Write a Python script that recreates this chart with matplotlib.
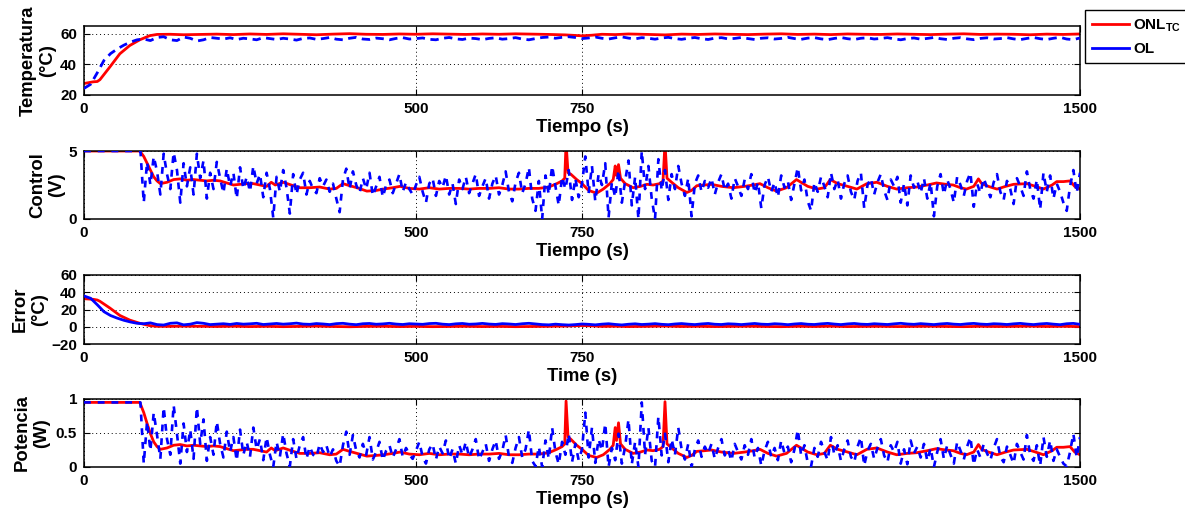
import matplotlib
matplotlib.use('Agg')
import matplotlib.pyplot as plt
import numpy as np
from matplotlib.lines import Line2D

plt.rcParams['font.family'] = ['Liberation Sans', 'DejaVu Sans']
plt.rcParams['font.weight'] = 'bold'
plt.rcParams['axes.labelweight'] = 'bold'
plt.rcParams['mathtext.fontset'] = 'custom'
plt.rcParams['mathtext.rm'] = 'Liberation Sans:bold'
plt.rcParams['mathtext.bf'] = 'Liberation Sans:bold'
plt.rcParams['axes.unicode_minus'] = True

# ---- ONL_TC (red) : temperature / error, irregular sample times
t_onl_temp = [0, 14, 20, 24, 39, 54, 69, 84, 99, 110,
              130, 150, 175, 200, 225, 250, 275, 300, 325, 350,
              375, 400, 425, 450, 475, 500, 525, 550, 575, 600,
              625, 650, 675, 700, 725, 750, 765, 780, 800, 820,
              850, 875, 900, 925, 950, 975, 1000, 1025, 1050, 1075,
              1100, 1125, 1150, 1175, 1200, 1225, 1250, 1275, 1300, 1325,
              1350, 1375, 1400, 1425, 1450, 1475, 1500]
temp_onl = [27.5, 28.6, 28.8, 30.0, 38.3, 46.9, 52.3, 56.0, 58.7, 59.5,
            59.6, 59.3, 59.5, 59.7, 59.4, 59.8, 59.5, 59.9, 59.6, 59.3,
            59.7, 60.0, 59.6, 59.5, 59.8, 59.6, 59.9, 59.7, 59.5, 59.8,
            59.6, 59.9, 59.7, 59.5, 59.2, 58.6, 59.0, 59.6, 59.4, 59.8,
            59.5, 59.2, 59.7, 59.5, 59.8, 59.6, 59.4, 59.7, 59.9, 59.5,
            59.7, 59.4, 59.8, 59.6, 59.5, 59.8, 59.6, 59.4, 59.7, 59.9,
            59.5, 59.7, 59.6, 59.3, 59.7, 59.5, 59.8]
error_onl = [32.5, 31.8, 31.0, 29.5, 21.7, 13.1, 7.7, 4.0, 1.3, 0.5,
             0.4, 0.7, 0.5, 0.3, 0.6, 0.2, 0.5, 0.1, 0.4, 0.7,
             0.3, 0.0, 0.4, 0.5, 0.2, 0.4, 0.1, 0.3, 0.5, 0.2,
             0.4, 0.1, 0.3, 0.5, 0.8, 1.4, 1.0, 0.4, 0.6, 0.2,
             0.5, 0.8, 0.3, 0.5, 0.2, 0.4, 0.6, 0.3, 0.1, 0.5,
             0.3, 0.6, 0.2, 0.4, 0.5, 0.2, 0.4, 0.6, 0.3, 0.1,
             0.5, 0.3, 0.4, 0.7, 0.3, 0.5, 0.2]

# ---- ONL_TC (red) : control voltage / power
t_onl_ctrl = [0, 84, 90, 95, 100, 105, 110, 115, 125, 135,
              145, 155, 165, 175, 185, 195, 205, 215, 225, 235,
              245, 255, 265, 275, 282, 288, 300, 312, 325, 340,
              355, 370, 380, 390, 400, 411, 426, 440, 451, 465,
              476, 490, 505, 520, 535, 550, 565, 580, 595, 610,
              625, 640, 655, 670, 685, 700, 712, 720, 724, 726,
              729, 733, 742, 750, 760, 772, 782, 792, 797, 800,
              802, 805, 808, 815, 827, 838, 848, 857, 867, 872,
              875, 878, 885, 895, 908, 915, 923, 935, 945, 960,
              978, 995, 1008, 1018, 1030, 1043, 1058, 1073, 1090, 1104,
              1115, 1124, 1135, 1150, 1164, 1179, 1194, 1210, 1224, 1240,
              1254, 1270, 1284, 1298, 1309, 1320, 1329, 1340, 1347, 1352,
              1362, 1375, 1388, 1400, 1420, 1433, 1445, 1458, 1465, 1475,
              1485, 1492, 1500]
ctrl_onl = [5.0, 5.0, 4.6, 4.1, 3.6, 3.1, 2.8, 2.6, 2.7, 2.9,
            2.95, 2.85, 2.9, 2.85, 2.8, 2.85, 2.8, 2.65, 2.5, 2.55,
            2.6, 2.6, 2.5, 2.4, 2.7, 2.5, 2.7, 2.5, 2.3, 2.3,
            2.35, 2.2, 2.25, 2.6, 2.45, 2.3, 2.05, 2.1, 2.2, 2.3,
            2.4, 2.25, 2.2, 2.3, 2.2, 2.25, 2.25, 2.2, 2.25, 2.25,
            2.3, 2.2, 2.2, 2.25, 2.25, 2.35, 2.6, 2.8, 3.0, 5.6,
            3.4, 3.3, 2.9, 2.6, 2.1, 1.9, 2.2, 2.6, 2.9, 3.9,
            3.2, 4.0, 3.0, 2.6, 2.3, 2.4, 2.55, 2.5, 2.6, 2.8,
            5.6, 3.0, 2.7, 2.3, 1.95, 2.1, 2.45, 2.5, 2.55, 2.4,
            2.3, 2.4, 2.5, 2.6, 2.3, 2.05, 2.3, 2.9, 2.4, 2.2,
            2.3, 2.9, 2.6, 2.4, 2.2, 2.6, 2.7, 2.4, 2.2, 2.3,
            2.35, 2.5, 2.65, 2.55, 2.5, 2.3, 2.2, 2.4, 2.95, 2.6,
            2.4, 2.2, 2.4, 2.55, 2.6, 2.4, 2.2, 2.5, 2.75, 2.75,
            2.8, 2.4, 2.2]
power_onl = [0.95, 0.95, 0.80, 0.64, 0.49, 0.37, 0.30, 0.26, 0.28, 0.32,
             0.33, 0.31, 0.32, 0.31, 0.30, 0.31, 0.30, 0.27, 0.24, 0.25,
             0.26, 0.26, 0.24, 0.22, 0.28, 0.24, 0.28, 0.24, 0.20, 0.20,
             0.21, 0.18, 0.19, 0.26, 0.23, 0.20, 0.16, 0.17, 0.18, 0.20,
             0.22, 0.19, 0.18, 0.20, 0.18, 0.19, 0.19, 0.18, 0.19, 0.19,
             0.20, 0.18, 0.18, 0.19, 0.19, 0.21, 0.26, 0.30, 0.34, 0.97,
             0.44, 0.41, 0.32, 0.26, 0.17, 0.14, 0.18, 0.26, 0.32, 0.58,
             0.39, 0.65, 0.34, 0.26, 0.20, 0.22, 0.25, 0.24, 0.26, 0.30,
             0.96, 0.34, 0.28, 0.20, 0.14, 0.17, 0.23, 0.24, 0.25, 0.22,
             0.20, 0.22, 0.24, 0.26, 0.20, 0.16, 0.20, 0.32, 0.22, 0.18,
             0.20, 0.32, 0.26, 0.22, 0.18, 0.26, 0.28, 0.22, 0.18, 0.20,
             0.21, 0.24, 0.27, 0.25, 0.24, 0.20, 0.18, 0.22, 0.33, 0.26,
             0.22, 0.18, 0.22, 0.25, 0.26, 0.22, 0.18, 0.24, 0.29, 0.29,
             0.30, 0.22, 0.18]

# ---- OL (blue) : temperature / error sampled every 10 s
temp_ol = [24.3, 27.0, 34.5, 42.5, 47.0, 50.0, 52.5, 54.5, 56.0, 56.5,
           55.5, 57.5, 58.0, 56.0, 55.5, 57.8, 57.0, 55.2, 56.0, 57.5,
           57.0, 56.5, 57.3, 56.2, 57.0, 56.6, 56.0, 57.4, 56.8, 56.2,
           57.0, 56.5, 55.8, 56.9, 57.2, 56.3, 56.8, 57.5, 56.4, 56.0,
           57.0, 57.6, 56.5, 56.2, 57.1, 56.7, 56.0, 56.9, 57.4, 56.5,
           56.8, 57.2, 56.3, 56.0, 57.0, 57.5, 56.6, 56.2, 57.1, 56.8,
           56.1, 56.9, 57.3, 56.4, 56.8, 57.4, 56.5, 56.0, 56.8, 57.5,
           57.8, 57.0, 57.6, 58.0, 57.5, 56.8, 57.2, 57.8, 57.0, 56.5,
           57.3, 57.9, 57.1, 56.6, 57.4, 57.0, 56.4, 57.2, 57.6, 56.8,
           56.3, 57.0, 57.5, 56.7, 56.2, 57.1, 57.4, 56.6, 56.9, 57.5,
           56.8, 56.2, 57.0, 57.3, 56.5, 56.9, 57.6, 56.8, 56.3, 57.1,
           57.4, 56.6, 56.1, 56.9, 57.5, 56.7, 56.2, 57.0, 57.3, 56.5,
           56.9, 57.4, 56.6, 56.0, 56.8, 57.2, 56.4, 56.9, 57.5, 56.7,
           56.2, 57.0, 57.4, 56.6, 56.1, 56.9, 57.3, 56.5, 56.8, 57.4,
           56.6, 56.1, 56.9, 57.5, 56.7, 56.2, 57.0, 57.6, 56.5, 56.1,
           57.2]
error_ol = [35.7, 33.0, 25.5, 17.5, 13.0, 10.0, 7.5, 5.5, 4.0, 3.5,
            4.5, 2.5, 2.0, 4.0, 4.5, 2.2, 3.0, 4.8, 4.0, 2.5,
            3.0, 3.5, 2.7, 3.8, 3.0, 3.4, 4.0, 2.6, 3.2, 3.8,
            3.0, 3.5, 4.2, 3.1, 2.8, 3.7, 3.2, 2.5, 3.6, 4.0,
            3.0, 2.4, 3.5, 3.8, 2.9, 3.3, 4.0, 3.1, 2.6, 3.5,
            3.2, 2.8, 3.7, 4.0, 3.0, 2.5, 3.4, 3.8, 2.9, 3.2,
            3.9, 3.1, 2.7, 3.6, 3.2, 2.6, 3.5, 4.0, 3.2, 2.5,
            2.2, 3.0, 2.4, 2.0, 2.5, 3.2, 2.8, 2.2, 3.0, 3.5,
            2.7, 2.1, 2.9, 3.4, 2.6, 3.0, 3.6, 2.8, 2.4, 3.2,
            3.7, 3.0, 2.5, 3.3, 3.8, 2.9, 2.6, 3.4, 3.1, 2.5,
            3.2, 3.8, 3.0, 2.7, 3.5, 3.1, 2.4, 3.2, 3.7, 2.9,
            2.6, 3.4, 3.9, 3.1, 2.5, 3.3, 3.8, 3.0, 2.7, 3.5,
            3.1, 2.6, 3.4, 4.0, 3.2, 2.8, 3.6, 3.1, 2.5, 3.3,
            3.8, 3.0, 2.6, 3.4, 3.9, 3.1, 2.7, 3.5, 3.2, 2.6,
            3.4, 3.9, 3.1, 2.5, 3.3, 3.8, 3.0, 2.4, 3.5, 3.9,
            2.8]

# ---- OL (blue) : control voltage / power sampled every 5 s
ctrl_ol = [5.0, 5.0, 5.0, 5.0, 5.0, 5.0, 5.0, 5.0, 5.0, 5.0,
           5.0, 5.0, 5.0, 5.0, 5.0, 5.0, 5.0, 5.0, 1.2, 4.2,
           2.5, 4.6, 3.5, 1.8, 4.8, 3.3, 2.2, 4.9, 3.6, 1.2,
           4.1, 2.4, 3.8, 1.8, 4.8, 3.0, 4.3, 1.5, 3.4, 2.2,
           4.2, 3.0, 1.9, 3.7, 2.4, 3.4, 1.5, 3.8, 2.2, 3.1,
           2.0, 3.9, 2.6, 3.3, 1.6, 3.4, 2.2, 0.1, 3.1, 2.0,
           3.6, 2.3, 0.4, 3.3, 1.8, 2.9, 3.4, 1.8, 2.8, 2.2,
           1.9, 3.0, 2.4, 2.9, 2.0, 2.6, 1.5, 0.5, 2.9, 3.7,
           2.2, 3.5, 2.5, 1.9, 3.0, 2.2, 3.4, 1.7, 2.4, 3.1,
           1.6, 2.5, 2.9, 1.9, 2.6, 3.3, 2.0, 2.7, 2.2, 1.8,
           2.5, 3.1, 2.0, 1.2, 2.6, 3.0, 1.7, 2.8, 2.3, 3.2,
           1.8, 2.6, 1.1, 2.9, 2.2, 3.1, 1.9, 2.6, 3.3, 1.7,
           2.4, 3.0, 1.5, 2.6, 3.2, 1.8, 2.5, 3.5, 2.0, 1.3,
           2.7, 3.4, 1.9, 2.6, 3.8, 1.5, 0.6, 2.8, 0.0, 3.2,
           1.8, 3.9, 2.4, 1.0, 3.1, 2.2, 3.6, 1.4, 3.0, 1.6,
           2.6, 4.6, 1.9, 3.9, 1.3, 3.3, 2.5, 4.1, 0.1, 2.7,
           1.6, 3.6, 1.2, 2.8, 4.3, 1.0, 3.1, 0.0, 5.0, 2.2,
           3.9, 1.5, 0.0, 4.4, 2.1, 3.6, 1.4, 3.3, 2.2, 3.9,
           2.6, 1.7, 3.0, 0.2, 2.6, 3.2, 2.0, 2.8, 2.3, 3.0,
           1.8, 2.7, 3.3, 2.1, 2.6, 1.5, 3.0, 2.4, 1.7, 2.9,
           2.2, 3.3, 1.9, 2.7, 0.8, 2.5, 3.1, 2.0, 2.7, 1.6,
           3.2, 2.3, 2.8, 1.4, 2.6, 3.8, 2.1, 2.9, 1.3, 0.6,
           2.7, 2.0, 3.1, 2.4, 1.6, 3.4, 2.2, 2.9, 1.5, 2.6,
           3.2, 2.0, 1.4, 2.8, 3.4, 0.8, 2.5, 3.0, 1.8, 2.7,
           3.3, 2.1, 1.4, 2.9, 2.4, 3.1, 1.2, 2.6, 1.0, 3.2,
           2.3, 2.8, 1.9, 3.0, 1.5, 2.7, 0.2, 2.4, 3.3, 1.8,
           2.9, 2.2, 1.2, 3.1, 2.5, 1.7, 2.8, 3.4, 0.9, 2.6,
           1.9, 3.0, 2.3, 1.6, 2.7, 3.3, 2.0, 1.4, 2.8, 2.2,
           1.1, 3.0, 2.4, 1.7, 3.5, 2.2, 1.5, 2.9, 0.7, 3.4,
           2.0, 3.2, 1.5, 2.6, 2.0, 1.2, 0.6, 2.4, 3.6, 1.9,
           3.4]
power_ol = [0.95, 0.95, 0.95, 0.95, 0.95, 0.95, 0.95, 0.95, 0.95, 0.95,
            0.95, 0.95, 0.95, 0.95, 0.95, 0.95, 0.95, 0.95, 0.05, 0.67,
            0.24, 0.80, 0.47, 0.12, 0.88, 0.41, 0.18, 0.91, 0.49, 0.05,
            0.64, 0.22, 0.55, 0.12, 0.88, 0.34, 0.70, 0.09, 0.44, 0.18,
            0.67, 0.34, 0.14, 0.52, 0.22, 0.44, 0.09, 0.55, 0.18, 0.37,
            0.15, 0.58, 0.26, 0.41, 0.10, 0.44, 0.18, 0.00, 0.37, 0.15,
            0.49, 0.20, 0.01, 0.41, 0.12, 0.32, 0.44, 0.12, 0.30, 0.18,
            0.14, 0.34, 0.22, 0.32, 0.15, 0.26, 0.09, 0.01, 0.32, 0.52,
            0.18, 0.47, 0.24, 0.14, 0.34, 0.18, 0.44, 0.11, 0.22, 0.37,
            0.10, 0.24, 0.32, 0.14, 0.26, 0.41, 0.15, 0.28, 0.18, 0.12,
            0.24, 0.37, 0.15, 0.05, 0.26, 0.34, 0.11, 0.30, 0.20, 0.39,
            0.12, 0.26, 0.05, 0.32, 0.18, 0.37, 0.14, 0.26, 0.41, 0.11,
            0.22, 0.34, 0.09, 0.26, 0.39, 0.12, 0.24, 0.47, 0.15, 0.06,
            0.28, 0.44, 0.14, 0.26, 0.55, 0.09, 0.01, 0.30, 0.00, 0.39,
            0.12, 0.58, 0.22, 0.04, 0.37, 0.18, 0.49, 0.07, 0.34, 0.10,
            0.26, 0.80, 0.14, 0.58, 0.06, 0.41, 0.24, 0.64, 0.00, 0.28,
            0.10, 0.49, 0.05, 0.30, 0.70, 0.04, 0.37, 0.00, 0.95, 0.18,
            0.58, 0.09, 0.00, 0.74, 0.17, 0.49, 0.07, 0.41, 0.18, 0.58,
            0.26, 0.11, 0.34, 0.00, 0.26, 0.39, 0.15, 0.30, 0.20, 0.34,
            0.12, 0.28, 0.41, 0.17, 0.26, 0.09, 0.34, 0.22, 0.11, 0.32,
            0.18, 0.41, 0.14, 0.28, 0.02, 0.24, 0.37, 0.15, 0.28, 0.10,
            0.39, 0.20, 0.30, 0.07, 0.26, 0.55, 0.17, 0.32, 0.06, 0.01,
            0.28, 0.15, 0.37, 0.22, 0.10, 0.44, 0.18, 0.32, 0.09, 0.26,
            0.39, 0.15, 0.07, 0.30, 0.44, 0.02, 0.24, 0.34, 0.12, 0.28,
            0.41, 0.17, 0.07, 0.32, 0.22, 0.37, 0.05, 0.26, 0.04, 0.39,
            0.20, 0.30, 0.14, 0.34, 0.09, 0.28, 0.00, 0.22, 0.41, 0.12,
            0.32, 0.18, 0.05, 0.37, 0.24, 0.11, 0.30, 0.44, 0.03, 0.26,
            0.14, 0.34, 0.20, 0.10, 0.28, 0.41, 0.15, 0.07, 0.30, 0.18,
            0.05, 0.34, 0.22, 0.11, 0.47, 0.18, 0.09, 0.32, 0.02, 0.44,
            0.15, 0.39, 0.09, 0.26, 0.15, 0.05, 0.01, 0.22, 0.49, 0.14,
            0.44]

t_ol_temp = np.linspace(0, 1500, len(temp_ol))
t_ol_ctrl = np.linspace(0, 1500, len(ctrl_ol))

x_ticks = [0, 500, 750, 1500]
RED = '#ff0000'
BLUE = '#0000ff'

fig = plt.figure(figsize=(11.85, 5.14), dpi=100)
W, H = 1185.0, 514.0
left, width = 84 / W, 996 / W
rows = [(26, 95), (151, 219), (275, 344), (399, 467)]
axes = [fig.add_axes([left, 1 - b / H, width, (b - t) / H]) for t, b in rows]


def style(ax, ylim, yticks, ylabel, xlabel, label_x):
    ax.set_xlim(0, 1500)
    ax.set_ylim(*ylim)
    ax.set_xticks(x_ticks)
    ax.set_yticks(yticks)
    ax.tick_params(direction='in', length=4, width=0.8, top=True, right=True,
                   labelsize=11, pad=5)
    ax.grid(True, linestyle=(0, (1, 3)), color='k', linewidth=0.7)
    for s in ax.spines.values():
        s.set_linewidth(1.1)
    ax.set_xlabel(xlabel, fontsize=13.3, fontweight='bold', labelpad=2)
    ax.set_ylabel(ylabel, fontsize=13.3, fontweight='bold', linespacing=1.15)
    ax.yaxis.set_label_coords(label_x, 0.5)


dash = (2.6, 2.6)

ax = axes[0]
ax.plot(t_onl_temp, temp_onl, color=RED, lw=2, zorder=2)
ax.plot(t_ol_temp, temp_ol, color=BLUE, lw=2, dashes=(3, 2), zorder=3)
style(ax, (20, 65), [20, 40, 60], 'Temperatura\n(°C)', 'Tiempo (s)', -0.028)

ax = axes[1]
ax.plot(t_onl_ctrl, ctrl_onl, color=RED, lw=2, zorder=2)
ax.plot(t_ol_ctrl, ctrl_ol, color=BLUE, lw=1.9, dashes=dash, zorder=3)
style(ax, (0, 5), [0, 5], 'Control\n(V)', 'Tiempo (s)', -0.019)

ax = axes[2]
ax.plot(t_onl_temp, error_onl, color=RED, lw=2, zorder=2)
ax.plot(t_ol_temp, error_ol, color=BLUE, lw=2, zorder=3)
style(ax, (-20, 60), [-20, 0, 20, 40, 60], 'Error\n(°C)', 'Time (s)', -0.036)

ax = axes[3]
ax.plot(t_onl_ctrl, power_onl, color=RED, lw=2, zorder=2)
ax.plot(t_ol_ctrl, power_ol, color=BLUE, lw=1.9, dashes=dash, zorder=3)
style(ax, (0, 1), [0, 0.5, 1], 'Potencia\n(W)', 'Tiempo (s)', -0.034)
axes[3].set_yticklabels(['0', '0.5', '1'])

handles = [Line2D([], [], color=RED, lw=2), Line2D([], [], color=BLUE, lw=2)]
leg = fig.legend(handles, [r'ONL$_{\mathbf{TC}}$', 'OL'], loc='upper left',
                 bbox_to_anchor=(1085 / W, 1 - 10 / H), borderaxespad=0,
                 fontsize=11, handlelength=2.4, handletextpad=0.3,
                 borderpad=0.45, labelspacing=0.55, frameon=True,
                 fancybox=False, edgecolor='k', framealpha=1)
leg.get_frame().set_linewidth(1.0)

fig.savefig('out.png', dpi=100)
